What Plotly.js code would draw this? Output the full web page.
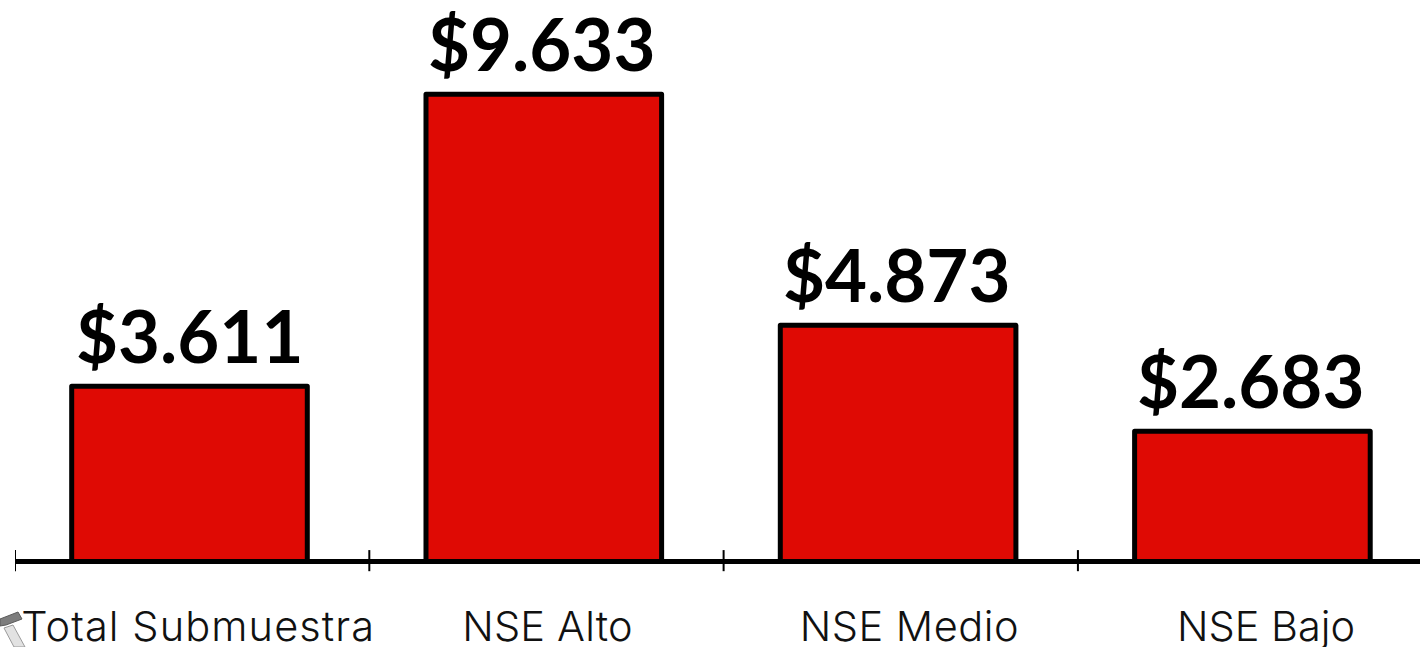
<!DOCTYPE html>
<html><head><meta charset="utf-8">
<script src="https://cdn.plot.ly/plotly-3.0.1.min.js"></script>
<style>html,body{margin:0;padding:0;background:#fff;overflow:hidden}
.bars .point path{stroke-linejoin:round}
.annotation[data-index="0"] text{letter-spacing:1.1px}
.annotation[data-index="1"] text{letter-spacing:0.2px}
.annotation[data-index="2"] text{letter-spacing:0.5px}
</style>
</head><body><div id="chart" style="width:1420px;height:647px"></div>
<script>
const categories = ["Total Submuestra","NSE Alto","NSE Medio","NSE Bajo"];
const values = [3611,9633,4873,2683];
const valueLabels = ["$3.611","$9.633","$4.873","$2.683"];
const labelShift = [6,1,9,11];
const valueShift = [-3,-5,-4,-5];
const tickPositions = [-0.5,0.5,1.5,2.5];
const W=1420,H=647,L=15,B=47;
const px=(x,y)=>((x-L)/(W-L)).toFixed(5)+" "+((H-B-y)/(H-B)).toFixed(5);
const poly=pts=>"M"+pts.map(p=>px(p[0],p[1])).join(" L")+" Z";
const iconDark=[[0,619],[18,612],[22,619],[6,625],[0,626]];
const iconLight=[[4,628],[13,625],[25,647],[14,647]];
const trace = {type:"bar",x:categories,y:values,
  cliponaxis:false,width:0.665,offset:-0.34,
  marker:{color:"#DF0A04",line:{color:"#000",width:5}},hoverinfo:"x+y"};
const layout = {width:W,height:H,margin:{l:L,r:0,t:0,b:B,pad:0},
  paper_bgcolor:"#fff",plot_bgcolor:"#fff",showlegend:false,
  xaxis:{type:"category",categoryorder:"array",categoryarray:categories,range:[-0.5,3.4655],
    showticklabels:false,ticks:"",showline:false,showgrid:false,zeroline:false},
  yaxis:{range:[-794,11577],showticklabels:false,ticks:"",showline:false,showgrid:false,
    zeroline:true,zerolinecolor:"#000",zerolinewidth:5},
  shapes:tickPositions.map(p=>({type:"line",xref:"x",yref:"y",x0:p,x1:p,y0:-200,y1:235,line:{color:"#000",width:2}}))
    .concat([
      {type:"path",xref:"paper",yref:"paper",path:poly(iconDark),fillcolor:"#7d7d7d",line:{color:"#5a5a5a",width:1}},
      {type:"path",xref:"paper",yref:"paper",path:poly(iconLight),fillcolor:"#e2e2e2",line:{color:"#9a9a9a",width:1}}
    ]),
  annotations:categories.map((c,i)=>({x:c,xref:"x",y:0,yref:"paper",yanchor:"top",yshift:1,xshift:labelShift[i],
    text:c,showarrow:false,font:{family:"Inter, sans-serif",size:41.5,color:"#111",weight:300}}))
   .concat(categories.map((c,i)=>({x:c,xref:"x",y:values[i],yref:"y",yanchor:"bottom",yshift:6,xshift:valueShift[i],
    text:valueLabels[i],showarrow:false,font:{family:"Lato, sans-serif",size:72.5,color:"#000",weight:700}})))
};
Plotly.newPlot("chart",[trace],layout,{displayModeBar:false,responsive:false});
</script></body></html>
